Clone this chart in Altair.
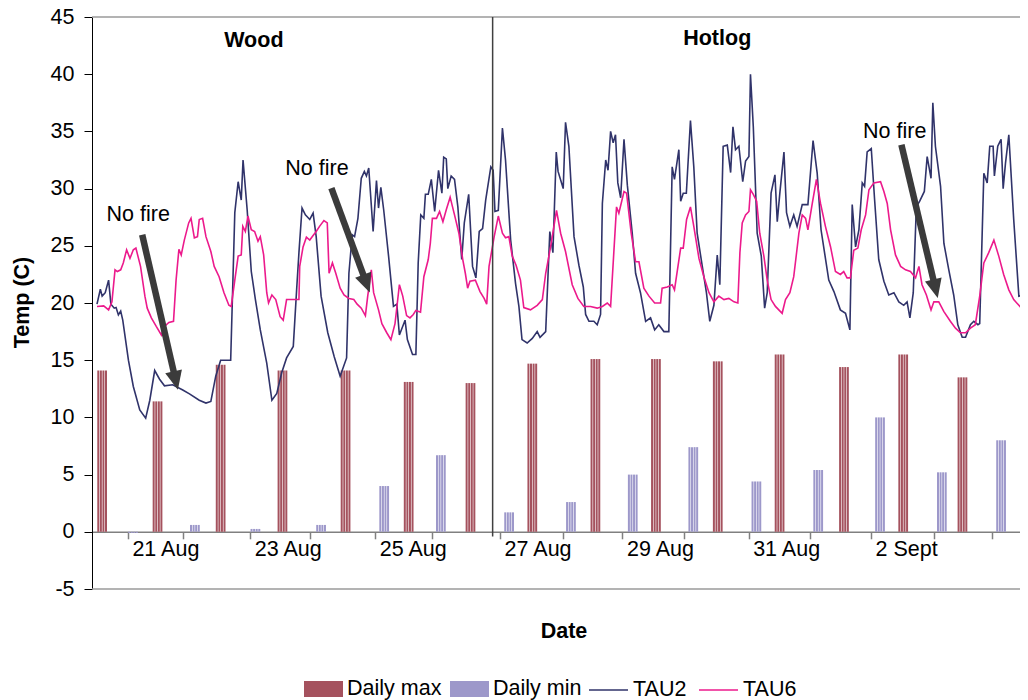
import math
import altair as alt
import pandas as pd

FONT = "Liberation Sans"
FS = 21.5
W, H = 928, 572
XMAX = 356.4          # hours shown (start = 20 Aug 12:00)
YMIN, YMAX = -5, 45

# ---------------- data ----------------
bar_names = ["Daily max", "Daily min"]
bar_colors = ["#A5525E", "#9D98CA"]
line_names = ["TAU2", "TAU6"]
line_colors = ["#30336A", "#EC1A8C"]

daily_max = [14.1, 11.4, 14.6, 14.1, 14.1, 13.1, 13.0, 14.7, 15.1, 15.1, 14.9, 15.5, 14.4, 15.5, 13.5]
daily_max_hour = [0, 21.5, 46, 70, 94.5, 119, 143, 167, 191.5, 215, 239, 263, 288, 311, 334]
daily_min = [-0.1, 0.6, 0.25, 0.6, 4.0, 6.7, 1.7, 2.6, 5.0, 7.4, 4.4, 5.4, 10.0, 5.2, 8.0]
daily_min_hour = [12, 36, 59.5, 85, 109.5, 131.5, 158, 182, 206, 229.5, 254, 278, 302, 326, 349]
hours_per_bar = 4

tau2_hour = [0, 1.3, 2, 3.2, 4.5, 5.4, 6.7, 7.4, 8.3, 9.2, 10, 12.2, 14.1, 16.6, 18.9, 20.5, 22.4, 24.3,
             26.2, 29.4, 33.3, 35.9, 39.7, 42.3, 44.2, 46.1, 48, 49.3, 51.9, 53.5, 54.8, 56, 56.7, 58.3,
             59.9, 61.5, 63.4, 65.9, 67.9, 69.8, 71.7, 73.6, 76.2, 77.5, 78.4, 79.6, 80.9, 82.6, 83.9,
             85.1, 87, 89.6, 92.1, 94.4, 96.9, 97.8, 99.1, 100, 101.3, 102.6, 103.8, 104.6, 105.5, 107.2,
             108.5, 109.3, 110.2, 111.3, 113.2, 115.1, 116.4, 117.4, 119.6, 120.5, 122.5, 123.8, 124.7,
             125.7, 126.9, 127.5, 128.6, 129.8, 131.1, 132.6, 133.9, 134.6, 135.6, 136.2, 137.5, 138.8,
             140.1, 141.6, 142.6, 144.3, 145.8, 147.1, 148.4, 149.7, 150.9, 152.9, 153.8, 154.5, 155.8,
             157.4, 158.6, 160.6, 162.5, 163.8, 165, 167.0, 169.0, 170.9, 172.0, 174.2, 175.8, 177.0,
             178.3, 179.0, 181.0, 181.9, 183.2, 185.2, 187.1, 188.8, 189.7, 191.0, 192.9, 194.2, 195.5,
             196.2, 197.5, 198.4, 199.4, 200.4, 201.3, 202.2, 203.3, 204.6, 205.9, 207.8, 209.1, 211.0,
             213.0, 214.9, 216.5, 218.1, 220.1, 222.0, 223.3, 224.2, 225.9, 226.6, 227.6, 228.8, 230.4,
             231.7, 233.0, 235.0, 236.6, 237.9, 239.5, 240.8, 241.8, 243.1, 244.7, 246.0, 246.9, 247.9,
             249.2, 250.7, 251.8, 253.1, 253.7, 254.8, 256.3, 257.9, 259.2, 260.2, 261.7, 263.2, 264.1,
             265.1, 266.7, 267.7, 269.0, 270.5, 271.8, 273.8, 276.0, 278.0, 279.6, 281.1, 284.1, 286.1,
             288.6, 290.6, 292.3, 293.2, 294.5, 295.8, 297.1, 298.0, 299.0, 300.6, 301.9, 303.5, 305.5,
             307.4, 309.4, 311.3, 313.2, 314.5, 315.6, 316.9, 318.1, 319.4, 321.2, 322.3, 323.8, 324.5,
             325.5, 327.5, 328.8, 330.7, 332.6, 334.2, 335.9, 337.2, 339.1, 340.4, 342.0, 342.7, 344.3,
             345.6, 346.6, 347.9, 348.4, 349.7, 351.0, 351.8, 352.7, 354.0, 355.9, 357.9, 359.5]
tau2_temp = [19.9, 21.2, 20.6, 20.9, 22.0, 19.9, 19.55, 19.6, 18.96, 19.3, 18.5, 15.0, 12.7, 10.66, 9.93,
             11.5, 14.1, 13.34, 12.76, 12.85, 12.4, 12.06, 11.5, 11.25, 11.4, 13.6, 15.0, 15.0, 15.0, 27.9,
             30.6, 29.0, 32.5, 28.15, 22.75, 20.3, 17.65, 14.74, 11.5, 12.1, 13.9, 15.2, 16.2, 21.15, 24.4,
             28.3, 27.7, 27.3, 27.85, 25.8, 20.6, 17.4, 15.3, 13.6, 15.2, 22.6, 25.96, 25.8, 27.4, 30.9,
             31.5, 31.1, 31.8, 26.25, 30.7, 28.3, 30.1, 28.15, 24.1, 19.7, 19.9, 17.2, 18.5, 16.8, 15.5,
             15.5, 23.5, 27.7, 27.4, 29.5, 29.5, 30.8, 28.0, 31.6, 29.6, 32.75, 32.6, 30.0, 31.1, 30.8,
             28.4, 23.8, 27.0, 29.5, 23.2, 22.2, 26.25, 26.5, 29.0, 31.9, 31.6, 28.0, 28.1, 35.3, 32.5,
             25.5, 21.7, 19.7, 16.8, 16.5, 16.9, 17.5, 17.0, 17.5, 26.25, 24.4, 33.2, 31.5, 30.0, 35.8,
             33.7, 25.8, 23.3, 21.4, 19.0, 18.4, 18.4, 18.1, 19.0, 28.7, 32.5, 31.6, 35.0, 34.0, 34.7,
             30.5, 29.2, 34.3, 30.3, 26.1, 22.6, 20.9, 18.4, 18.7, 17.65, 18.1, 17.5, 17.5, 31.9, 30.8,
             33.4, 28.9, 29.6, 29.6, 35.95, 31.9, 26.1, 23.2, 20.9, 18.4, 19.8, 24.2, 21.6, 33.7, 33.8,
             31.4, 35.4, 33.4, 33.7, 30.6, 32.4, 32.8, 40.0, 35.4, 26.1, 24.1, 19.55, 20.9, 29.6, 31.2,
             27.1, 29.6, 33.2, 27.9, 26.7, 27.7, 26.7, 28.6, 28.6, 34.2, 31.35, 26.4, 22.0, 21.0, 19.4,
             19.1, 17.65, 28.6, 24.9, 26.4, 30.5, 30.2, 33.2, 33.5, 29.0, 23.8, 21.9, 20.7, 20.9, 20.1,
             19.8, 20.1, 18.7, 20.9, 28.4, 28.9, 29.75, 32.8, 30.9, 37.5, 33.7, 30.2, 25.2, 22.9, 20.7,
             18.1, 17.0, 17.0, 18.1, 18.4, 18.1, 18.2, 31.35, 30.5, 33.7, 33.7, 31.1, 33.7, 34.3, 30.0,
             32.2, 34.7, 27.3, 20.6, 20.7]

tau6_hour = [0, 2.6, 4.5, 5.8, 7, 7.9, 9.2, 10.2, 11.5, 12.8, 14.1, 15.1, 16.9, 18.6, 19.5, 21.1, 23, 25,
             26.2, 27.9, 29.7, 30.7, 31.8, 32.7, 33.9, 35.6, 36.5, 37.8, 39, 39.7, 41, 42.3, 44.2, 45.5,
             47.4, 49.3, 51.2, 52.1, 53.5, 54.8, 56, 56.6, 57.6, 58.6, 59.9, 61.2, 62.5, 63.4, 64.7, 65.9,
             66.6, 67.9, 69.4, 71.1, 72.3, 73.6, 76.2, 78.4, 78.7, 80, 81.3, 82.6, 83.9, 85.1, 86.4, 88.1,
             89.4, 90.1, 91.4, 92.7, 94.4, 95.9, 97.8, 99.7, 101, 102.6, 104.2, 105.1, 106.5, 107.4, 109.3,
             110.6, 112.5, 114.1, 115.7, 116.6, 117.4, 118.7, 120.2, 121.5, 122.8, 123.8, 125.6, 126.9,
             128.6, 129.4, 130.2, 131.8, 133, 134.3, 135.6, 137.1, 138.8, 140.5, 142, 143, 143.9, 144.8,
             146.9, 148.7, 150.3, 151.3, 152.2, 154.2, 155.8, 157.4, 158.6, 159.9, 161.2, 162.7, 164.4,
             165.7, 168.3, 170.9, 172.9, 174.2, 176.1, 178.4, 180.0, 181.9, 184.5, 186.7, 189.0, 191.6,
             194.2, 196.2, 198.1, 199.4, 201.7, 202.6, 204.6, 205.6, 207.4, 209.1, 210.4, 212.3, 214.3,
             216.5, 218.8, 219.4, 221.4, 223.3, 224.2, 226.6, 227.6, 228.9, 230.4, 231.7, 233.7, 235.6,
             237.6, 239.5, 241.4, 243.4, 245.3, 247.3, 248.8, 249.6, 250.5, 251.8, 253.1, 253.7, 254.8,
             256.1, 257.3, 258.9, 260.2, 261.7, 263.4, 266.0, 267.3, 269.0, 270.5, 272.5, 273.8, 275.1,
             276.0, 277.7, 279.3, 280.9, 282.8, 284.8, 286.7, 288.6, 289.9, 291.2, 292.5, 293.8, 295.4,
             296.7, 298.4, 299.7, 301.6, 304.2, 305.5, 306.8, 308.1, 310.0, 312.0, 313.9, 315.8, 317.8,
             319.1, 320.3, 322.0, 323.8, 324.9, 326.8, 328.8, 331.3, 333.3, 335.2, 337.2, 339.1, 341.0,
             342.7, 344.3, 346.2, 348.2, 350.1, 352.0, 354.0, 355.9, 357.9, 359.5]
tau6_temp = [19.7, 19.75, 19.4, 20.1, 22.9, 22.75, 22.9, 23.5, 24.65, 23.9, 24.65, 24.8, 23.2, 20.6, 19.55,
             18.7, 17.95, 17.2, 17.95, 18.3, 18.4, 22.0, 24.7, 24.2, 25.5, 27.0, 27.4, 25.7, 25.8, 27.3,
             27.4, 25.8, 24.5, 23.2, 22.3, 20.9, 19.8, 19.7, 22.0, 24.1, 24.2, 26.7, 26.25, 27.6, 26.4,
             26.25, 25.4, 25.8, 24.2, 20.9, 20.0, 20.7, 20.3, 18.8, 18.5, 20.3, 20.3, 20.3, 23.2, 24.9,
             25.75, 25.5, 25.9, 26.25, 26.7, 27.2, 27.0, 22.6, 23.5, 22.6, 21.3, 20.7, 20.4, 20.3, 19.9,
             19.55, 18.9, 20.6, 22.9, 20.9, 19.4, 18.2, 17.4, 16.8, 18.2, 20.0, 21.6, 20.6, 18.9, 18.7,
             19.0, 19.35, 19.2, 22.3, 23.8, 25.2, 27.4, 27.4, 28.0, 27.1, 28.15, 29.25, 27.7, 26.1, 23.8,
             22.6, 21.3, 21.9, 22.0, 21.0, 20.4, 19.9, 23.2, 25.8, 27.6, 26.1, 25.7, 25.8, 24.1, 23.3,
             22.0, 19.6, 19.4, 19.8, 20.3, 22.6, 24.9, 28.1, 26.1, 24.5, 21.6, 20.4, 19.7, 19.7, 19.55,
             19.7, 20.0, 19.7, 28.4, 27.85, 29.75, 29.6, 26.1, 23.6, 23.6, 21.3, 20.6, 20.0, 20.0, 21.3,
             21.4, 21.6, 21.15, 24.8, 24.8, 27.3, 28.4, 26.7, 23.9, 22.3, 20.9, 20.1, 20.6, 20.3, 20.4,
             20.1, 20.0, 24.4, 27.0, 27.7, 28.0, 29.9, 29.5, 28.9, 26.1, 24.1, 22.0, 20.3, 19.7, 19.1,
             20.3, 20.9, 22.3, 26.1, 27.7, 27.4, 26.4, 28.7, 30.8, 28.7, 26.7, 24.9, 22.75, 22.5, 22.75,
             22.2, 22.2, 24.6, 24.8, 26.4, 27.7, 29.9, 30.5, 30.6, 29.75, 28.7, 26.4, 24.2, 23.2, 22.9,
             22.75, 22.2, 23.2, 21.6, 20.7, 19.4, 20.1, 20.1, 19.25, 18.4, 17.8, 17.4, 17.4, 17.8, 18.1,
             20.6, 23.5, 24.4, 25.5, 24.1, 22.5, 21.15, 20.3, 19.8, 19.4]

# x-axis ticks (hours since 20 Aug 12:00) and their labels
tick_hours = [12, 33.5, 59.5, 82.5, 108, 130, 156.5, 181, 204, 228, 253, 277, 300.5, 325, 347.5]
tick_labels = ["21 Aug", "", "23 Aug", "", "25 Aug", "", "27 Aug", "", "29 Aug", "", "31 Aug", "",
               "2 Sept", "", ""]

# annotations (data coordinates)
site_names = ["Wood", "Hotlog"]
site_hour = [60.9, 240.8]
site_temp = [42.37, 42.57]
separator_hour = 153.6
separator_bottom = -0.4

note_text = ["No fire", "No fire", "No fire"]
note_hour = [16.0, 85.4, 309.7]
note_temp = [27.14, 31.2, 34.4]
arrow_start_hour = [17.55, 91.0, 312.3]
arrow_start_temp = [25.96, 30.04, 33.83]
arrow_tip_hour = [31.4, 105.9, 326.4]
arrow_tip_temp = [12.41, 20.92, 20.43]

# ---------------- tables ----------------
bar_rows = []
for name, vals, starts in (("Daily max", daily_max, daily_max_hour), ("Daily min", daily_min, daily_min_hour)):
    for v, s in zip(vals, starts):
        for k in range(hours_per_bar):
            bar_rows.append({"hour": s + k + 0.5, "temp": v, "series": name})
bars_df = pd.DataFrame(bar_rows)

lines_df = pd.concat([
    pd.DataFrame({"hour": tau2_hour, "temp": tau2_temp, "series": "TAU2"}),
    pd.DataFrame({"hour": tau6_hour, "temp": tau6_temp, "series": "TAU6"}),
], ignore_index=True)

pxh = W / XMAX
pxt = H / (YMAX - YMIN)
HEAD_LEN = 19.0
arrow_rows = []
for sh, st, th, tt in zip(arrow_start_hour, arrow_start_temp, arrow_tip_hour, arrow_tip_temp):
    sx, sy = sh * pxh, (YMAX - st) * pxt
    tx, ty = th * pxh, (YMAX - tt) * pxt
    dx, dy = tx - sx, ty - sy
    L = math.hypot(dx, dy)
    bx, by = tx - dx / L * HEAD_LEN * 0.8, ty - dy / L * HEAD_LEN * 0.8
    arrow_rows.append({
        "hour": sh, "temp": st,
        "hour2": bx / pxh, "temp2": YMAX - by / pxt,
        "tip_hour": th, "tip_temp": tt,
        "angle": math.degrees(math.atan2(-dx, dy)) % 360,
    })
arrows_df = pd.DataFrame(arrow_rows)
heads_df = arrows_df[["tip_hour", "tip_temp", "angle"]].rename(columns={"tip_hour": "hour", "tip_temp": "temp"})

notes_df = pd.DataFrame({"hour": note_hour, "temp": note_temp, "text": note_text})
sites_df = pd.DataFrame({"hour": site_hour, "temp": site_temp, "text": site_names})
border_df = pd.DataFrame({"temp": [YMAX, YMIN]})
sep_df = pd.DataFrame({"hour": [separator_hour], "temp": [YMAX], "temp2": [separator_bottom]})

# ---------------- encodings ----------------
label_expr = " : ".join(
    f"datum.value == {h} ? '{t}'" for h, t in zip(tick_hours, tick_labels) if t
) + " : ''"

zero_offset = -(H * (0 - YMIN) / (YMAX - YMIN))

X_ENC = alt.X(
    "hour:Q",
    scale=alt.Scale(domain=[0, XMAX], nice=False, zero=False),
    axis=alt.Axis(
        values=tick_hours, labelExpr=label_expr, orient="bottom", offset=zero_offset,
        domainColor="#808080", domainWidth=1.5, tickColor="#808080", tickWidth=1.5, tickSize=7,
        labelFont=FONT, labelFontSize=FS, labelColor="black", labelAlign="left",
        labelBaseline="top", labelPadding=0, labelOffset=4, labelOverlap=False,
        labelFlush=False, labelBound=False, grid=False,
        title="Date", titleFont=FONT, titleFontSize=FS, titleFontWeight="bold", titleColor="black",
        titleX=471.5, titleY=105.3, titleAlign="center", titleBaseline="alphabetic",
    ),
)
Y_ENC = alt.Y(
    "temp:Q",
    scale=alt.Scale(domain=[YMIN, YMAX], nice=False, zero=False),
    axis=alt.Axis(
        values=list(range(YMIN, YMAX + 1, 5)), labelExpr="'' + datum.value",
        domainColor="black", domainWidth=1,
        tickColor="black", tickWidth=1, tickSize=8, labelFont=FONT, labelFontSize=FS,
        labelColor="black", labelPadding=10, grid=False,
        title="Temp (C)", titleFont=FONT, titleFontSize=FS, titleFontWeight="bold", titleColor="black",
        titleX=-63.5, titleY=285, titleAngle=270, titleAlign="center", titleBaseline="alphabetic",
    ),
)

LEG_COMMON = dict(
    title=None, orient="none", legendY=652.5, direction="horizontal", columns=2, padding=0,
    symbolSize=1521, labelFont=FONT, labelFontSize=FS, labelColor="black", labelOffset=4,
    columnPadding=8, labelLimit=300,
)
FILL_ENC = alt.Fill(
    "series:N",
    scale=alt.Scale(domain=bar_names, range=bar_colors),
    legend=alt.Legend(legendX=212, symbolType="M-1,-0.41H1V0.41H-1Z", symbolStrokeWidth=0,
                      symbolOpacity=1, **LEG_COMMON),
)
STROKE_ENC = alt.Stroke(
    "series:N",
    scale=alt.Scale(domain=line_names, range=line_colors),
    legend=alt.Legend(legendX=496, symbolType="M-1,0H1", symbolStrokeWidth=1.6,
                      symbolOpacity=1, **LEG_COMMON),
)

ARROW_COLOR = "#3B3B3B"
HEAD_PATH = "M0,0L-0.45,-1L0.45,-1Z"

bars = alt.Chart(bars_df).mark_bar(size=2, clip=True).encode(x=X_ENC, y=Y_ENC, fill=FILL_ENC)
lines = alt.Chart(lines_df).mark_line(strokeWidth=1.6, clip=True).encode(x=X_ENC, y=Y_ENC, stroke=STROKE_ENC)
borders = alt.Chart(border_df).mark_rule(color="#9A9A9A", strokeWidth=1.5).encode(y=Y_ENC)
separator = alt.Chart(sep_df).mark_rule(color="#404040", strokeWidth=1.5).encode(
    x=X_ENC, y=Y_ENC, y2=alt.Y2("temp2:Q"))
shafts = alt.Chart(arrows_df).mark_rule(color=ARROW_COLOR, strokeWidth=6.5).encode(
    x=X_ENC, y=Y_ENC, x2=alt.X2("hour2:Q"), y2=alt.Y2("temp2:Q"))
heads = alt.Chart(heads_df).mark_point(
    shape=HEAD_PATH, filled=True, size=(2 * HEAD_LEN) ** 2, color=ARROW_COLOR, opacity=1
).encode(x=X_ENC, y=Y_ENC, angle=alt.Angle("angle:Q", scale=None))
notes = alt.Chart(notes_df).mark_text(
    font=FONT, fontSize=FS, color="black", align="center", baseline="alphabetic"
).encode(x=X_ENC, y=Y_ENC, text="text:N")
sites = alt.Chart(sites_df).mark_text(
    font=FONT, fontSize=FS, fontWeight="bold", color="black", align="center", baseline="alphabetic"
).encode(x=X_ENC, y=Y_ENC, text="text:N")

chart = alt.layer(
    borders, bars, lines, separator, shafts, heads, notes, sites
).resolve_scale(fill="independent", stroke="independent").properties(
    width=W, height=H,
    autosize=alt.AutoSizeParams(type="none"),
    padding={"left": 84, "top": 9, "right": 0, "bottom": 113},
    background="white",
).configure_view(stroke=None)

chart.save("out.html", embed_options={"renderer": "svg", "actions": False})
